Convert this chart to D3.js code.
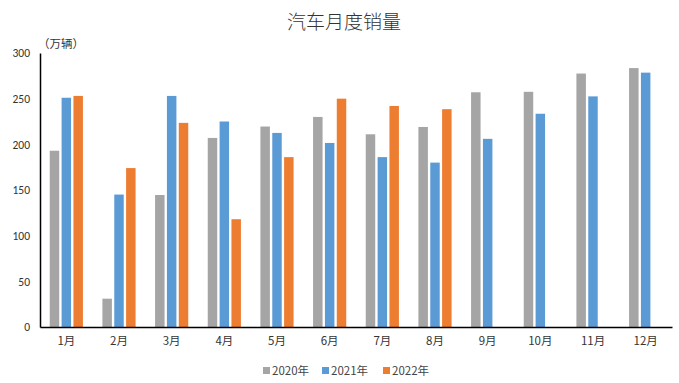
<!DOCTYPE html>
<html>
<head>
<meta charset="utf-8">
<script src="https://cdn.jsdelivr.net/npm/d3@7"></script>
<style>
  body { margin: 0; background: #fff; }
  svg { display: block; }
</style>
</head>
<body>
<div id="chart"></div>
<script>
// data (万辆)
const months = ["1月", "2月", "3月", "4月", "5月", "6月", "7月", "8月", "9月", "10月", "11月", "12月"];
const seriesNames = ["2020年", "2021年", "2022年"];
const sales2020 = [193, 31, 144.5, 207, 219.5, 230, 211, 219, 257, 257.5, 277.5, 283.5];
const sales2021 = [251, 145, 253, 225, 212.5, 201.5, 186, 180, 206, 233.5, 252.5, 278.5];
const sales2022 = [253, 174, 223.5, 118, 186, 250, 242, 238.5, null, null, null, null];
const yTicks = [0, 50, 100, 150, 200, 250, 300];
const colors = ["#a5a5a5", "#5b9bd5", "#ed7d31"];

const width = 679, height = 383;
const margin = { top: 53, right: 7, bottom: 56, left: 40 };
const cjk = "'Noto Sans CJK SC', 'Noto Sans', sans-serif";
const latin = "Carlito, 'Liberation Sans', 'DejaVu Sans', sans-serif";

const allSeries = [sales2020, sales2021, sales2022];
const rows = months.map((m, i) => ({ month: m, values: allSeries.map((s, k) => ({ key: k, value: s[i] })) }));

const svg = d3.select("#chart").append("svg")
    .attr("width", width)
    .attr("height", height);

const x = d3.scaleBand()
    .domain(months)
    .range([margin.left, width - margin.right])
    .paddingInner(0.37)
    .paddingOuter(0.185);

const xInner = d3.scaleBand()
    .domain([0, 1, 2])
    .range([0, x.bandwidth()])
    .paddingInner(0.2);

const y = d3.scaleLinear()
    .domain([0, 300])
    .range([height - margin.bottom, margin.top]);

// title
svg.append("text")
    .attr("x", 344)
    .attr("y", 29)
    .attr("text-anchor", "middle")
    .attr("font-family", cjk)
    .attr("font-size", 19)
    .attr("font-weight", 300)
    .attr("fill", "#333")
    .text("汽车月度销量");

// unit label
svg.append("text")
    .attr("x", 38)
    .attr("y", 48)
    .attr("font-family", cjk)
    .attr("font-size", 11.5)
    .attr("fill", "#333")
    .text("（万辆）");

// bars
const groups = svg.append("g")
    .selectAll("g")
    .data(rows)
    .join("g")
    .attr("transform", d => `translate(${x(d.month)},0)`);

groups.selectAll("rect")
    .data(d => d.values.filter(v => v.value != null))
    .join("rect")
    .attr("x", d => xInner(d.key))
    .attr("y", d => y(d.value))
    .attr("width", xInner.bandwidth())
    .attr("height", d => y(0) - y(d.value))
    .attr("fill", d => colors[d.key]);

// y axis
const yAxis = svg.append("g")
    .attr("transform", `translate(${margin.left},0)`)
    .call(d3.axisLeft(y).tickValues(yTicks).tickSize(0).tickPadding(10));
yAxis.select(".domain").attr("stroke", "#000").attr("stroke-width", 1.5);
yAxis.selectAll("text")
    .attr("font-family", latin)
    .attr("font-size", 11.5)
    .attr("fill", "#333");

// x axis
const xAxis = svg.append("g")
    .attr("transform", `translate(0,${y(0)})`)
    .call(d3.axisBottom(x).tickSize(0).tickPadding(10));
xAxis.select(".domain").attr("stroke", "#000").attr("stroke-width", 1.5);
xAxis.selectAll("text")
    .attr("font-family", cjk)
    .attr("font-size", 11.5)
    .attr("fill", "#333");

// legend
const legendX = [263, 322, 383];
const legend = svg.append("g")
    .selectAll("g")
    .data(seriesNames)
    .join("g")
    .attr("transform", (d, i) => `translate(${legendX[i]},371)`);

legend.append("rect")
    .attr("x", 0)
    .attr("y", -4)
    .attr("width", 7)
    .attr("height", 7)
    .attr("fill", (d, i) => colors[i]);

legend.append("text")
    .attr("x", 9)
    .attr("y", 4)
    .attr("font-family", cjk)
    .attr("font-size", 11.5)
    .attr("fill", "#444")
    .text(d => d);
</script>
</body>
</html>
